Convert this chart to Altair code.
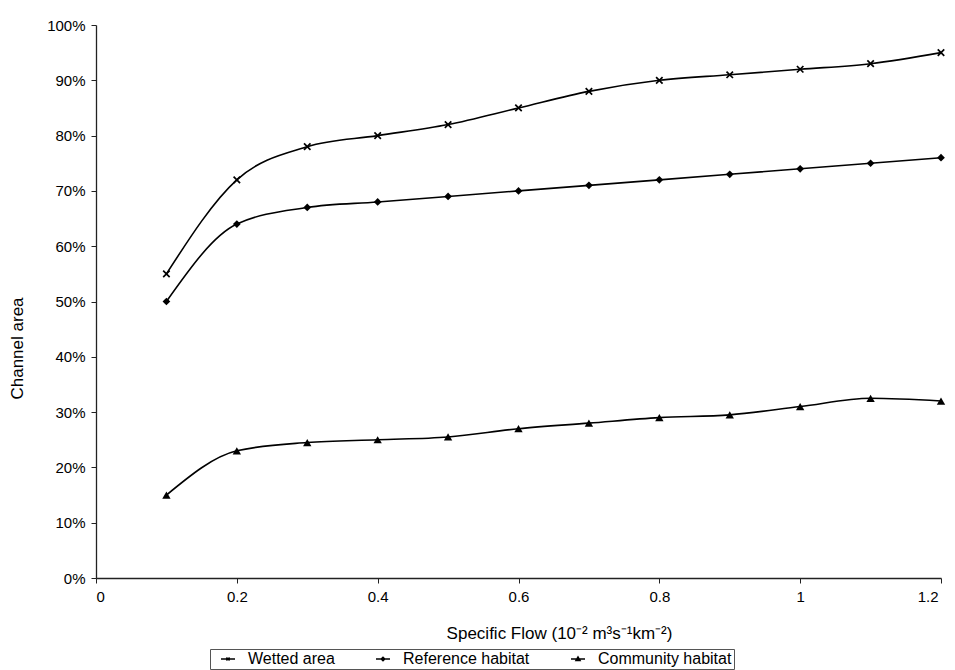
import altair as alt
import pandas as pd

flows = [0.1, 0.2, 0.3, 0.4, 0.5, 0.6, 0.7, 0.8, 0.9, 1.0, 1.1, 1.2]
wetted = [0.55, 0.72, 0.78, 0.80, 0.82, 0.85, 0.88, 0.90, 0.91, 0.92, 0.93, 0.95]
reference = [0.50, 0.64, 0.67, 0.68, 0.69, 0.70, 0.71, 0.72, 0.73, 0.74, 0.75, 0.76]
community = [0.15, 0.23, 0.245, 0.25, 0.255, 0.27, 0.28, 0.29, 0.295, 0.31, 0.325, 0.32]
series_names = ["Wetted area", "Reference habitat", "Community habitat"]
x_ticks = [0, 0.2, 0.4, 0.6, 0.8, 1.0, 1.2]
y_ticks = [0, 0.1, 0.2, 0.3, 0.4, 0.5, 0.6, 0.7, 0.8, 0.9, 1.0]

rows = []
for name, vals in zip(series_names, [wetted, reference, community]):
    for f, v in zip(flows, vals):
        rows.append({"flow": f, "area": v, "series": name})
df = pd.DataFrame(rows)

FONT = "Liberation Sans"

x = alt.X("flow:Q", scale=alt.Scale(domain=[0, 1.2], nice=False),
          axis=alt.Axis(values=x_ticks, format="~g", grid=False,
                        title="Specific Flow (10⁻² m³s⁻¹km⁻²)",
                        titlePadding=21, labelPadding=6, titleX=463,
                        labelOffset={"condition": {"test": "datum.value >= 1.15", "value": -3},
                                     "value": 0}))
y = alt.Y("area:Q", scale=alt.Scale(domain=[0, 1], nice=False),
          axis=alt.Axis(values=y_ticks, format=".0%", grid=False,
                        title="Channel area", titlePadding=20, labelPadding=6,
                        titleY=323))

X_PATH = "M-1,-1L1,1M-1,1L1,-1"
legend_paths = [
    "M-1,0H1M-0.22,-0.22L0.22,0.22M-0.22,0.22L0.22,-0.22",
    "M-1,0H1M0,-0.26L0.26,0L0,0.26L-0.26,0Z",
    "M-1,0H1M0,-0.3L0.3,0.22L-0.3,0.22Z",
]

lines = alt.Chart(df).mark_line(color="black", strokeWidth=1.6, interpolate="monotone").encode(
    x=x, y=y, detail="series:N")

pts_cross = alt.Chart(df[df.series == "Wetted area"]).mark_point(
    shape=X_PATH, color="black", filled=False, size=42, strokeWidth=1.7, opacity=1
).encode(x=x, y=y)
pts_diamond = alt.Chart(df[df.series == "Reference habitat"]).mark_point(
    shape="diamond", color="black", filled=True, size=60, opacity=1
).encode(x=x, y=y)
pts_tri = alt.Chart(df[df.series == "Community habitat"]).mark_point(
    shape="triangle-up", color="black", filled=True, size=70, opacity=1
).encode(x=x, y=y)

legend_layer = alt.Chart(df).mark_point(opacity=0, color="black").encode(
    x=x, y=y,
    shape=alt.Shape("series:N", sort=series_names,
                    scale=alt.Scale(domain=series_names, range=legend_paths),
                    legend=alt.Legend(
                        title=None, orient="none", direction="horizontal",
                        legendX=114, legendY=624,
                        symbolOpacity=1, symbolFillColor="black",
                        symbolStrokeColor="black", symbolStrokeWidth=1.4,
                        symbolSize=196, labelFontSize=16, labelFont=FONT,
                        labelColor="black", columnPadding=32,
                        strokeColor="#555", padding=2, labelOffset=12,
                        symbolOffset=8,
                    )),
)

chart = alt.layer(lines, pts_cross, pts_diamond, pts_tri, legend_layer).properties(
    width=845, height=553,
    autosize=alt.AutoSizeParams(type="none"),
    padding={"left": 88, "top": 17, "right": 6, "bottom": 92},
).configure_view(stroke=None).configure_axis(
    labelFont=FONT, titleFont=FONT, labelFontSize=15, titleFontSize=17,
    labelColor="black", titleColor="black", titleFontWeight="normal",
    domainColor="#222", tickColor="#222", tickSize=5,
    domainWidth=1.3,
)

chart.save("out.html", embed_options={"renderer": "svg", "actions": False})
